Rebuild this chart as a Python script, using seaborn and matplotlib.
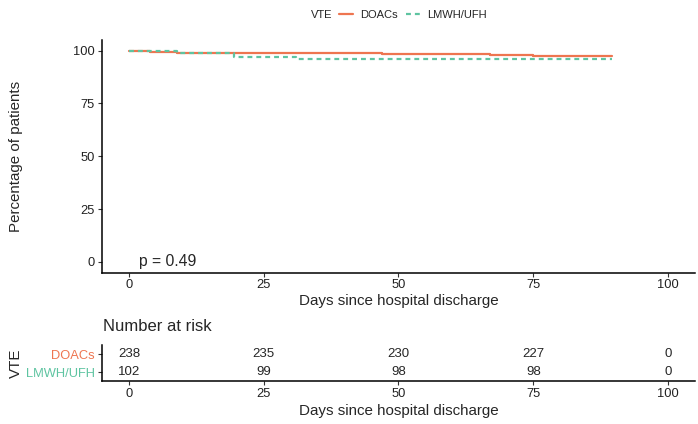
import numpy as np
import pandas as pd
import seaborn as sns
import matplotlib.pyplot as plt

# survival curves (days, % event-free)
days_doac = [0, 4, 9, 47, 67, 75, 89.6]
surv_doac = [100, 99.2, 98.7, 98.3, 97.9, 97.4, 97.4]
days_lmwh = [0, 9, 19.5, 31, 89.6]
surv_lmwh = [100, 99.0, 97.0, 96.0, 96.0]

groups = ["DOACs", "LMWH/UFH"]
colors = {"DOACs": "#EE7550", "LMWH/UFH": "#5EC4A1"}

# number at risk table
risk_times = [0, 25, 50, 75, 100]
risk_doac = [238, 235, 230, 227, 0]
risk_lmwh = [102, 99, 98, 98, 0]
p_text = "p = 0.49"

df = pd.concat([
    pd.DataFrame({"days": days_doac, "surv": surv_doac, "group": "DOACs"}),
    pd.DataFrame({"days": days_lmwh, "surv": surv_lmwh, "group": "LMWH/UFH"}),
])

sns.set_theme(style="ticks")
plt.rcParams['font.family'] = ['Liberation Sans', 'DejaVu Sans']

fig = plt.figure(figsize=(6.98, 4.24), dpi=100)
ax = fig.add_axes([0.1461, 0.3573, 0.8496, 0.5484])
ax2 = fig.add_axes([0.1461, 0.1014, 0.8496, 0.0849])

sns.lineplot(data=df, x="days", y="surv", hue="group", style="group",
             palette=colors, dashes={"DOACs": "", "LMWH/UFH": (2.2, 1.8)},
             drawstyle="steps-post", estimator=None, lw=1.6, legend=False, ax=ax)

ax.set_xlim(-5, 105)
ax.set_ylim(-5, 105)
ax.set_xticks(risk_times)
ax.set_yticks([0, 25, 50, 75, 100])
ax.set_xlabel("Days since hospital discharge", fontsize=10.9, labelpad=1.5)
ax.set_ylabel("Percentage of patients", fontsize=10.9)
ax.yaxis.set_label_coords(-0.134, 0.5)
ax.text(1.8, 0, p_text, fontsize=11.3, ha="left", va="center")

for a in (ax, ax2):
    sns.despine(ax=a)
    a.spines["left"].set_linewidth(1.1)
    a.spines["bottom"].set_linewidth(1.1)
    a.spines["left"].set_color("black")
    a.spines["bottom"].set_color("black")
    a.tick_params(length=3, width=0.8, color="#333333", labelsize=9.3, pad=2,
                  labelcolor="#222222")

# legend at top
lines = ax.get_lines()
leg = ax.legend(lines[:2], groups, ncol=2, frameon=False, fontsize=8,
                loc="center left", bbox_to_anchor=(0.4857, 0.965),
                bbox_transform=fig.transFigure, handlelength=1.3,
                handletextpad=0.6, columnspacing=0.7,
                borderpad=0, borderaxespad=0)
fig.text(0.4455, 0.965, "VTE", fontsize=8, ha="left", va="center")

# risk table
ax2.set_xlim(-5, 105)
ax2.set_ylim(0.5, 2.5)
ax2.set_xticks(risk_times)
ax2.set_yticks([2, 1])
ax2.set_yticklabels(groups)
for lab, g in zip(ax2.get_yticklabels(), groups):
    lab.set_color(colors[g])
for x, n in zip(risk_times, risk_doac):
    ax2.text(x, 2, str(n), ha="center", va="center", fontsize=9.5)
for x, n in zip(risk_times, risk_lmwh):
    ax2.text(x, 1, str(n), ha="center", va="center", fontsize=9.5)
ax2.set_xlabel("Days since hospital discharge", fontsize=10.9, labelpad=3)
ax2.set_ylabel("VTE", fontsize=10.9)
ax2.yaxis.set_label_coords(-0.134, 0.5)
fig.text(0.1475, 0.231, "Number at risk", fontsize=12, ha="left", va="center")

fig.savefig("out.png", dpi=100)
